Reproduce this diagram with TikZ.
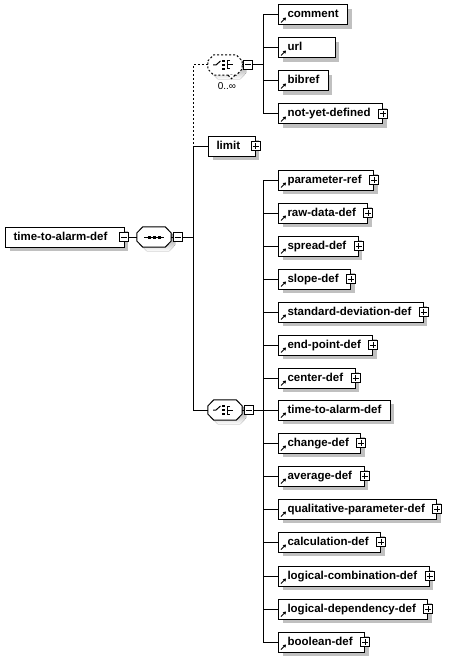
\documentclass[tikz,border=0pt]{standalone}
\usepackage{fontspec}
\setmainfont{Liberation Sans}
\usetikzlibrary{arrows.meta,calc}
\definecolor{shade}{HTML}{C0C0C0}

\tikzset{
  shadowed/.style={preaction={fill=shade,draw=none,transform canvas={xshift=4pt,yshift=-4pt}}},
  boxbase/.style={draw,fill=white,line width=1pt,anchor=west,minimum height=20pt,
    inner ysep=0pt,inner xsep=9pt,text height=8.5pt,text depth=2.5pt,
    font=\fontsize{11.5}{13}\selectfont\bfseries,shadowed},
  refelem/.style={boxbase,path picture={
    \draw[solid,line width=1pt,-{Triangle[length=2.8pt,width=3.4pt]}]
      ($(path picture bounding box.south west)+(2.5,-2.5)$) -- ++(5,-5);}},
  tailgap/.style={execute at end node={\hspace{#1}}},
  haskids/.style={tailgap=3pt},
  plus/.style={draw,solid,fill=white,line width=1pt,minimum size=9pt,inner sep=0pt,
    path picture={
      \draw (path picture bounding box.west) ++(1.5,0) -- ++(6,0);
      \draw (path picture bounding box.north) ++(0,1.5) -- ++(0,6);}},
  minus/.style={draw,solid,fill=white,line width=1pt,minimum size=9pt,inner sep=0pt,
    path picture={\draw (path picture bounding box.west) ++(1.5,0) -- ++(6,0);}},
  comp/.style={minimum width=34pt,minimum height=20pt,inner sep=0pt},
  octo/.style={insert path={($(#1.west)+(0,-4)$) -- ($(#1.north west)+(6,0)$)
    -- ($(#1.north east)+(-6,0)$) -- ($(#1.east)+(0,-4)$) -- ($(#1.east)+(0,4)$)
    -- ($(#1.south east)+(-6,0)$) -- ($(#1.south west)+(6,0)$) -- ($(#1.west)+(0,4)$) -- cycle}},
  link/.style={line width=1pt},
  optlink/.style={line width=1pt,dash pattern=on 2pt off 2pt}
}
% symbols inside the compositors
\newcommand\seqmark[1]{%
  \begin{scope}[shift={(#1.center)}]
    \draw[link] (-10,0) -- (10,0);
    \foreach \dx in {-5,0,5} \fill (\dx,0) +(-1.5,-1.5) rectangle +(1.5,1.5);
  \end{scope}}
\newcommand\choicemark[1]{%
  \begin{scope}[shift={(#1.center)},line width=1pt]
    \draw (-12,0) -- (-9,0) -- (-4.5,-4);
    \foreach \dy in {-4,0,4} \fill (-1.5,\dy) +(-1.4,-1.4) rectangle +(1.4,1.4);
    \draw (5,-4) -- (2,-4) -- (2,4) -- (5,4);
    \draw (2,0) -- (8,0);
  \end{scope}}

\begin{document}
\begin{tikzpicture}[x=1pt,y=-1pt]
  \useasboundingbox (0,0) rectangle (459,658);
  \coordinate (busM) at (193,0);
  \coordinate (busA) at (263,0);
  \coordinate (busB) at (263,0);

  % Root element and sequence
  \node[boxbase,tailgap=9pt,inner xsep=8pt] (root) at (5,237) {time-to-alarm-def};
  \node[minus] (m-root) at ($(root.east)+(-1,0)$) {};
  \node[comp] (seq) at (154,237) {};
  \fill[shade,transform canvas={xshift=4pt,yshift=-4pt},octo=seq];
  \draw[link,fill=white,octo=seq];
  \seqmark{seq}
  \node[minus] (m-seq) at (177.5,237) {};
  \draw[link] (m-root.east) -- (seq.west);
  \draw[link] (seq.east) -- (m-seq.west);
  \draw[link] (m-seq.east) -- (m-seq.east -| busM);

  % Optional choice (0..inf)
  \node[comp] (chA) at (225,65) {};
  \fill[shade,transform canvas={xshift=4pt,yshift=-4pt},octo=chA];
  \draw[optlink,fill=white,octo=chA];
  \draw[optlink,fill=white] ($(chA.south)+(3,0)$) -- ++(3.5,3.5) -- ++(3.5,-3.5);
  \choicemark{chA}
  \node[font=\fontsize{10}{12}\selectfont] (multA) at (227,86) {0..∞};
  \node[minus] (m-chA) at (248,65) {};
  \draw[link] (chA.east) -- (m-chA.west);
  \draw[link] (m-chA.east) -- (m-chA.east -| busA);

  \node[refelem] (comment) at (278,15) {comment};
  \node[refelem,tailgap=24pt] (url) at (278,48) {url};
  \node[refelem] (bibref) at (278,81) {bibref};
  \node[refelem,haskids] (nyd) at (278,114) {not-yet-defined};
  \node[plus] (p-nyd) at (nyd.east) {};
  \draw[link] (busA |- comment.west) -- (busA |- nyd.west);
  \draw[link] (comment.west) -- (comment.west -| busA);
  \draw[link] (url.west) -- (url.west -| busA);
  \draw[link] (bibref.west) -- (bibref.west -| busA);
  \draw[link] (nyd.west) -- (nyd.west -| busA);

  % Limit element
  \node[boxbase,tailgap=7pt,inner xsep=8pt] (limit) at (208,146) {limit};
  \node[plus] (p-limit) at (limit.east) {};

  % Second choice
  \node[comp] (chB) at (225,410) {};
  \fill[shade,transform canvas={xshift=4pt,yshift=-4pt},octo=chB];
  \draw[link,fill=white,octo=chB];
  \choicemark{chB}
  \node[minus] (m-chB) at (248.5,410) {};
  \draw[link] (chB.west -| busM) -- (chB.west);
  \draw[link] (chB.east) -- (m-chB.west);
  \draw[link] (m-chB.east) -- (m-chB.east -| busB);

  % Main bus
  \draw[optlink] (chA.west) -- (chA.west -| busM) -- (busM |- limit.west);
  \draw[link] (limit.west) -- (limit.west -| busM) -- (busM |- chB.west);

  \node[refelem,haskids] (param) at (278,180) {parameter-ref};
  \node[plus] (p-param) at (param.east) {};
  \node[refelem,haskids] (raw) at (278,213) {raw-data-def};
  \node[plus] (p-raw) at (raw.east) {};
  \node[refelem,haskids] (spread) at (278,246) {spread-def};
  \node[plus] (p-spread) at (spread.east) {};
  \node[refelem,haskids] (slope) at (278,279) {slope-def};
  \node[plus] (p-slope) at (slope.east) {};
  \node[refelem,haskids] (stddev) at (278,312) {standard-deviation-def};
  \node[plus] (p-stddev) at (stddev.east) {};
  \node[refelem,haskids] (endpt) at (278,345) {end-point-def};
  \node[plus] (p-endpt) at (endpt.east) {};
  \node[refelem,haskids] (center) at (278,378) {center-def};
  \node[plus] (p-center) at (center.east) {};
  \node[refelem] (tta) at (278,410) {time-to-alarm-def};
  \node[refelem,haskids] (change) at (278,443) {change-def};
  \node[plus] (p-change) at (change.east) {};
  \node[refelem,haskids] (average) at (278,476) {average-def};
  \node[plus] (p-average) at (average.east) {};
  \node[refelem,haskids] (qual) at (278,509) {qualitative-parameter-def};
  \node[plus] (p-qual) at (qual.east) {};
  \node[refelem,haskids] (calc) at (278,542) {calculation-def};
  \node[plus] (p-calc) at (calc.east) {};
  \node[refelem,haskids] (logcomb) at (278,576) {logical-combination-def};
  \node[plus] (p-logcomb) at (logcomb.east) {};
  \node[refelem,haskids] (logdep) at (278,609) {logical-dependency-def};
  \node[plus] (p-logdep) at (logdep.east) {};
  \node[refelem,haskids] (bool) at (278,642) {boolean-def};
  \node[plus] (p-bool) at (bool.east) {};

  \draw[link] (busB |- param.west) -- (busB |- bool.west);
  \foreach \n in {param,raw,spread,slope,stddev,endpt,center,tta,change,average,qual,calc,logcomb,logdep,bool}
    \draw[link] (\n.west) -- (\n.west -| busB);
\end{tikzpicture}
\end{document}
